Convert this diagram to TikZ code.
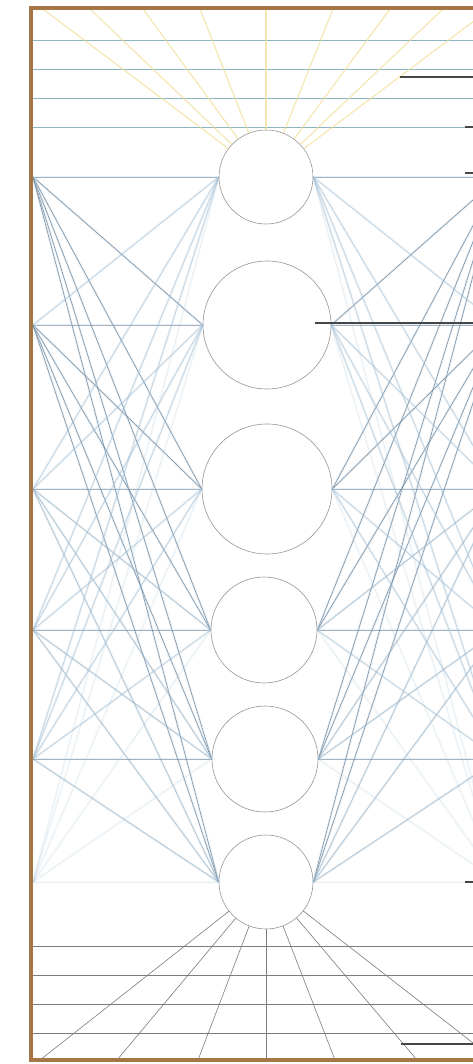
\documentclass[tikz,border=0pt]{standalone}
\definecolor{framebrown}{RGB}{165,118,70}
\definecolor{conndark}{RGB}{90,105,120}
\definecolor{glowblue}{RGB}{185,215,238}
\definecolor{circgray}{RGB}{150,150,150}
\definecolor{topline}{RGB}{140,180,195}
\definecolor{botline}{RGB}{120,125,130}
\definecolor{rayyellow}{RGB}{240,220,140}
\definecolor{leader}{RGB}{70,70,70}
\begin{document}
\begin{tikzpicture}[x=1pt,y=-1pt,
  unit/.style={circle,draw=circgray,line width=0.6pt,fill=white,inner sep=0pt,minimum size=#1},
  glow/.style={glowblue,line width=2.2pt,opacity=0.35},
  conn/.style={conndark,line width=0.55pt},
  hline/.style={topline,line width=0.8pt},
  bline/.style={botline,line width=0.6pt},
  yray/.style={rayyellow,line width=1.1pt,opacity=0.7},
  lead/.style={leader,line width=1.6pt}]
\useasboundingbox (0,0) rectangle (473,1064);
\clip (0,0) rectangle (473,1064);
\fill[white] (0,0) rectangle (473,1064);
% units
\node[unit=94pt]  (c1) at (266,177) {};
\node[unit=128pt] (c2) at (267,325) {};
\node[unit=130pt] (c3) at (267,489) {};
\node[unit=106pt] (c4) at (264,630) {};
\node[unit=106pt] (c5) at (265,759) {};
\node[unit=94pt]  (c6) at (266,882) {};
% side points
\foreach \k/\y in {1/177,2/325,3/489,4/630,5/759,6/882}{
  \coordinate (l\k) at (33,\y);
  \coordinate (r\k) at (499,\y);
}
% top horizontal lines
\foreach \k/\y in {1/40,2/69,3/98,4/127}{
  \coordinate (ta\k) at (33,\y);
  \coordinate (tb\k) at (510,\y);
  \draw[hline] (ta\k) -- (tb\k);
}
% bottom horizontal lines
\foreach \k/\y in {1/946,2/975,3/1004,4/1033}{
  \coordinate (ba\k) at (33,\y);
  \coordinate (bb\k) at (510,\y);
  \draw[bline] (ba\k) -- (bb\k);
}
% yellow rays from top unit
\foreach \k/\x in {1/43,2/90,3/143,4/200,5/266,6/333,7/390,8/443,9/490}{
  \coordinate (tp\k) at (\x,9);
  \draw[yray] (c1) -- (tp\k);
}
% gray rays from bottom unit
\foreach \k/\x in {1/40,2/117,3/198,4/266,5/335,6/417,7/495}{
  \coordinate (bp\k) at (\x,1060);
  \draw[bline] (c6) -- (bp\k);
}
% connections
\foreach \i in {1,...,6}{
  \foreach \j in {1,...,6}{
    \pgfmathsetmacro\op{ifthenelse(\i==\j,0.45,ifthenelse(\j<\i,0.25,ifthenelse(\i<3,0.75,0.4)))}
    \pgfmathsetmacro\opr{ifthenelse(\i==6,0.08,\op)}
    \pgfmathsetmacro\opg{ifthenelse(\i==6,0.15,0.35)}
    \draw[glow,opacity=\opg] (l\i) -- (c\j.west);
    \draw[conn,draw opacity=\opr] (l\i) -- (c\j.west);
    \draw[glow,opacity=\opg] (r\i) -- (c\j.east);
    \draw[conn,draw opacity=\opr] (r\i) -- (c\j.east);
  }
}
% frame
\coordinate (f1) at (31,8);
\coordinate (f2) at (501,1060);
\draw[framebrown,line width=3.2pt] (f1) rectangle (f2);
% leader lines
\coordinate (a1) at (400,77);  \coordinate (a2) at (480,77);
\coordinate (b1) at (465,127); \coordinate (b2) at (480,127);
\coordinate (d1) at (465,173); \coordinate (d2) at (480,173);
\coordinate (e1) at (315,323); \coordinate (e2) at (480,323);
\coordinate (g1) at (465,882); \coordinate (g2) at (480,882);
\coordinate (h1) at (401,1044); \coordinate (h2) at (480,1044);
\foreach \p in {a,b,d,e,g,h}{\draw[lead] (\p1) -- (\p2);}
\end{tikzpicture}
\end{document}
